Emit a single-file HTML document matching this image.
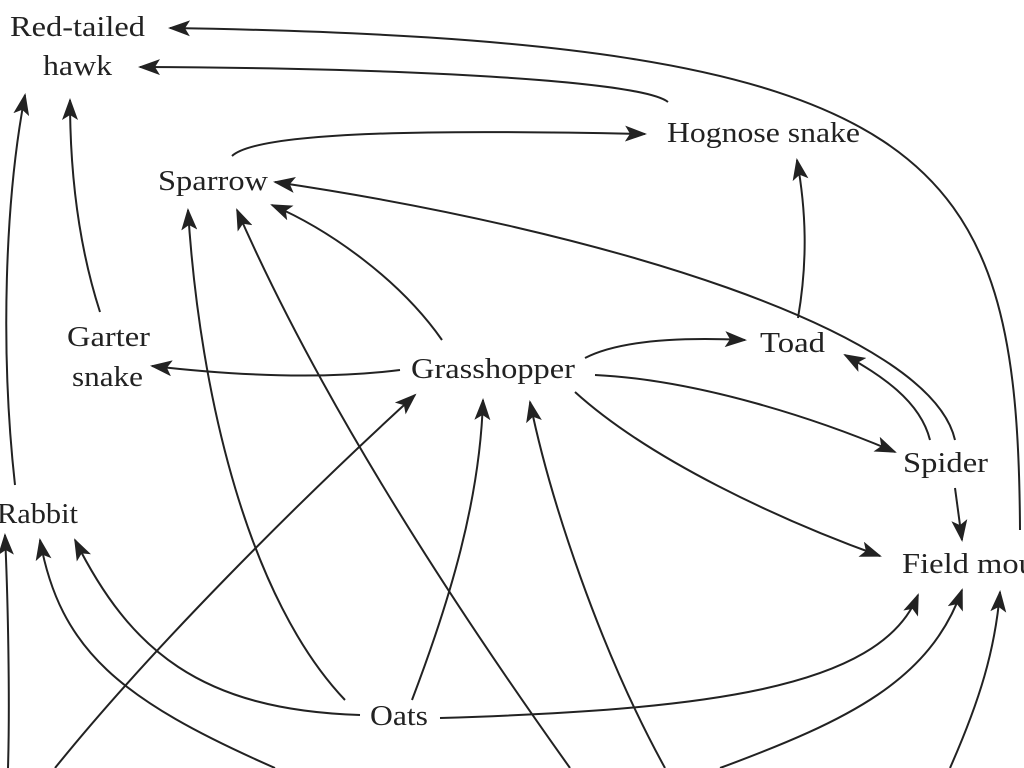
<!DOCTYPE html>
<html><head><meta charset="utf-8"><style>
html,body{margin:0;padding:0;background:#fff;}
svg{display:block}
text{font-family:"Liberation Serif",serif;font-size:28px;fill:#222}
path{fill:none;stroke:#222;stroke-width:2}
</style></head><body>
<svg width="1024" height="768" viewBox="0 0 1024 768">
<defs>
<marker id="a" markerWidth="22" markerHeight="16" refX="20" refY="8" orient="auto" markerUnits="userSpaceOnUse">
<path d="M0,0 L22,8 L0,16 L5,8 Z" style="fill:#222;stroke:none"/>
</marker>
</defs>
<g marker-end="url(#a)">
<path d="M1020,530 C1018,150 940,40 170,28"/>
<path d="M668,102 C640,80 400,68 140,67"/>
<path d="M232,156 C260,130 450,130 645,134"/>
<path d="M955,440 C930,330 600,230 275,182"/>
<path d="M798,318 C808,260 806,210 797,160"/>
<path d="M100,312 C80,250 70,180 70,100"/>
<path d="M15,485 C0,350 5,200 25,95"/>
<path d="M442,340 C400,280 330,230 272,205"/>
<path d="M400,370 C320,380 230,375 152,366"/>
<path d="M585,358 C620,340 680,337 745,340"/>
<path d="M595,375 C700,380 820,420 895,452"/>
<path d="M575,392 C650,460 780,520 880,556"/>
<path d="M930,440 C920,400 880,375 845,355"/>
<path d="M955,488 L962,540"/>
<path d="M360,715 C200,710 130,650 75,540"/>
<path d="M345,700 C250,600 200,400 188,210"/>
<path d="M412,700 C450,600 480,500 483,400"/>
<path d="M440,718 C700,710 880,690 918,595"/>
<path d="M55,768 C150,650 300,500 415,395"/>
<path d="M8,768 C10,700 8,600 5,535"/>
<path d="M275,768 C120,700 60,650 40,540"/>
<path d="M570,768 C450,600 320,400 237,210"/>
<path d="M665,768 C600,650 550,500 530,402"/>
<path d="M720,768 C850,720 930,680 962,590"/>
<path d="M950,768 C980,700 995,650 1000,592"/>
</g>
<text x="10" y="36" textLength="135" lengthAdjust="spacingAndGlyphs">Red-tailed</text>
<text x="43" y="75" textLength="69" lengthAdjust="spacingAndGlyphs">hawk</text>
<text x="667" y="142" textLength="193" lengthAdjust="spacingAndGlyphs">Hognose snake</text>
<text x="158" y="190" textLength="110" lengthAdjust="spacingAndGlyphs">Sparrow</text>
<text x="67" y="346" textLength="83" lengthAdjust="spacingAndGlyphs">Garter</text>
<text x="72" y="386" textLength="71" lengthAdjust="spacingAndGlyphs">snake</text>
<text x="411" y="378" textLength="164" lengthAdjust="spacingAndGlyphs">Grasshopper</text>
<text x="760" y="352" textLength="65" lengthAdjust="spacingAndGlyphs">Toad</text>
<text x="903" y="472" textLength="85" lengthAdjust="spacingAndGlyphs">Spider</text>
<text x="-3" y="523" textLength="81" lengthAdjust="spacingAndGlyphs">Rabbit</text>
<text x="902" y="573" textLength="160" lengthAdjust="spacingAndGlyphs">Field mouse</text>
<text x="370" y="725" textLength="58" lengthAdjust="spacingAndGlyphs">Oats</text>
</svg>
</body></html>
